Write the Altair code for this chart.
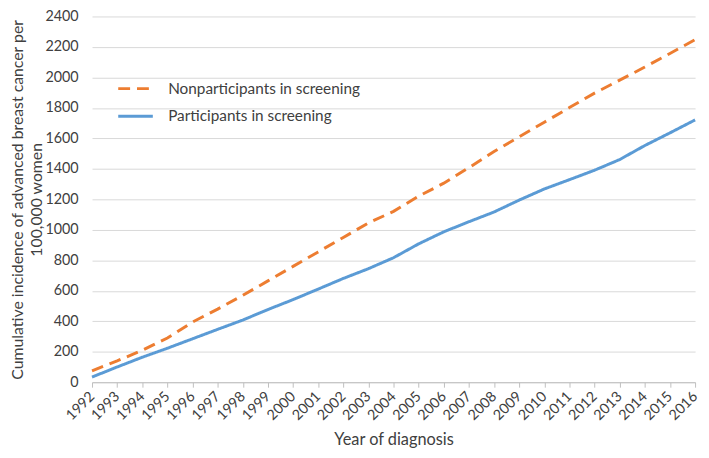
import altair as alt
import pandas as pd

years = ["1992", "1993", "1994", "1995", "1996", "1997", "1998", "1999", "2000",
         "2001", "2002", "2003", "2004", "2005", "2006", "2007", "2008", "2009",
         "2010", "2011", "2012", "2013", "2014", "2015", "2016"]
nonparticipants = [75, 140, 210, 290, 395, 480, 570, 665, 760, 855, 950, 1045, 1121,
                   1221, 1306, 1408, 1514, 1610, 1706, 1802, 1897, 1982, 2068, 2157, 2248]
participants = [34, 100, 164, 223, 285, 347, 408, 477, 542, 611, 681, 745, 817,
                908, 987, 1053, 1117, 1195, 1268, 1329, 1391, 1461, 1553, 1636, 1721]
series_names = ["Nonparticipants in screening", "Participants in screening"]
y_ticks = [0, 200, 400, 600, 800, 1000, 1200, 1400, 1600, 1800, 2000, 2200, 2400]

rows = []
for name, vals in zip(series_names, [nonparticipants, participants]):
    for yr, v in zip(years, vals):
        rows.append({"year": yr, "value": v, "series": name})
df = pd.DataFrame(rows)

FONT = "Lato"
TXT = "#404040"

legend = alt.Legend(
    title=None, orient="none", legendX=25, legendY=54, padding=0,
    symbolType="stroke", symbolSize=1225, symbolStrokeWidth=3,
    labelFont=FONT, labelFontSize=15.5, labelColor=TXT, labelOffset=14,
    labelLimit=400, rowPadding=-3,
)

chart = alt.Chart(df).mark_line(strokeWidth=3, strokeCap="butt").encode(
    x=alt.X("year:O", scale=alt.Scale(type="point", padding=0),
            axis=alt.Axis(title="Year of diagnosis", labelAngle=-45, labelAlign="right",
                          labelBaseline="middle", labelPadding=7, grid=False,
                          domainColor="#bfbfbf", tickColor="#bfbfbf", tickSize=5,
                          labelFont=FONT, labelFontSize=14.5, labelColor=TXT,
                          titleFont=FONT, titleFontSize=16.5, titleFontWeight="normal",
                          titleColor=TXT, titleY=58, titleBaseline="middle")),
    y=alt.Y("value:Q", scale=alt.Scale(domain=[0, 2400], nice=False),
            axis=alt.Axis(values=y_ticks, format="d",
                          title=["Cumulative incidence of advanced breast cancer per", "100,000 women"],
                          ticks=False, domain=False, grid=True, gridColor="#d9d9d9",
                          labelPadding=14, labelFont=FONT, labelFontSize=14.5, labelColor=TXT,
                          titleFont=FONT, titleFontSize=16, titleFontWeight="normal",
                          titleColor=TXT, titleLineHeight=19, titleAngle=-90,
                          titleX=-75, titleY=185, titleAlign="center", titleBaseline="middle")),
    color=alt.Color("series:N", scale=alt.Scale(domain=series_names, range=["#ED7D31", "#5B9BD5"]),
                    legend=legend),
    strokeDash=alt.StrokeDash("series:N", scale=alt.Scale(domain=series_names, range=[[12, 7], [1, 0]]),
                              legend=legend),
).properties(
    width=610, height=370,
    autosize=alt.AutoSizeParams(type="none"),
    padding={"left": 85, "top": 6, "right": 6, "bottom": 66},
).configure_view(stroke=None)

chart.save("out.html", embed_options={"renderer": "svg", "actions": False})
